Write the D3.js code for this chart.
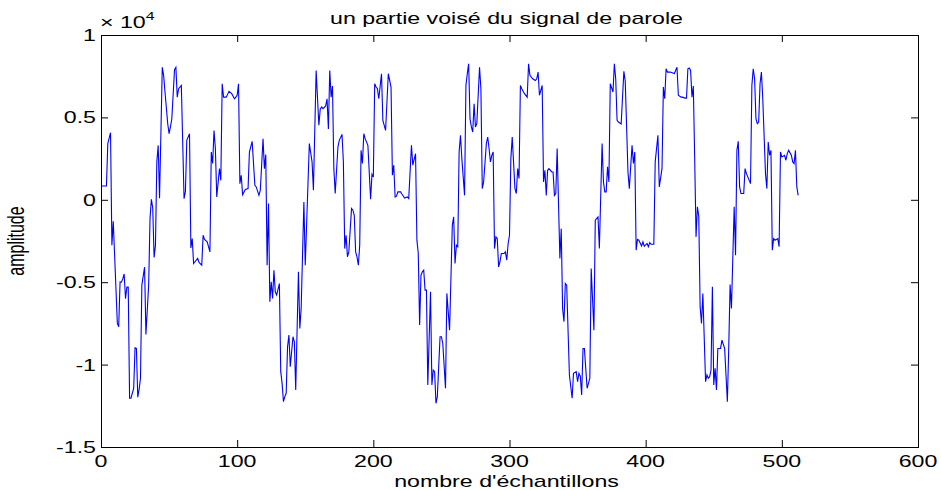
<!DOCTYPE html>
<html>
<head>
<meta charset="utf-8">
<script src="https://cdn.jsdelivr.net/npm/d3@7/dist/d3.min.js"></script>
<style>
  html, body { margin: 0; padding: 0; background: #fff; }
  svg { display: block; }
  text { font-family: "Liberation Sans", Arial, Helvetica, sans-serif; fill: #000; }
</style>
</head>
<body>
<svg id="chart" width="941" height="490"></svg>
<script>
// ---- data ----
const titleText = "un partie voisé du signal de parole";
const xLabelText = "nombre d'échantillons";
const yLabelText = "amplitude";
const xTicks = [0, 100, 200, 300, 400, 500, 600];
const yTicks = [-15000, -10000, -5000, 0, 5000, 10000];
const yTickLabels = ["-1.5", "-1", "-0.5", "0", "0.5", "1"];
const xDomain = [0, 600];
const yDomain = [-15000, 10000];

// sample index of each vertex of the trace
const sampleIdx = [0,4,5,7,8,9,10,12,13,14,15,16,17,18,19,20,21,22,24,25,26,27,28,29,30,32,33,35,36,37,38,39,40,41,42,43,45,46,47,49,50,51,52,54,55,56,57,58,59,61,62,63,65,66,67,68,69,71,72,74,75,76,78,80,81,82,83,84,85,87,88,89,90,92,94,96,98,99,100,101,102,103,104,106,108,109,111,113,114,116,117,119,120,121,122,123,124,125,126,127,128,129,131,132,133,134,135,136,137,138,139,141,142,143,145,146,147,149,150,153,155,156,158,160,161,162,163,165,166,167,168,169,170,171,172,174,175,177,178,179,180,181,182,184,185,186,187,188,189,190,191,192,193,194,196,198,199,200,201,202,203,204,206,207,209,211,213,214,215,216,217,218,220,221,223,225,226,228,229,231,232,233,234,235,236,237,238,239,240,242,243,244,245,246,247,249,250,251,253,254,256,258,259,260,261,262,263,264,265,267,268,269,270,271,272,273,274,275,276,278,279,280,281,283,284,285,286,287,288,289,290,291,292,293,294,296,297,298,299,300,301,302,304,305,306,307,308,309,311,313,314,315,317,319,320,321,322,324,325,326,327,328,329,331,332,333,334,335,337,338,339,340,341,342,344,346,347,349,350,351,352,353,354,355,357,359,360,362,363,365,366,368,369,370,371,372,373,374,376,377,378,379,380,382,384,385,387,388,390,391,392,393,394,395,397,398,399,401,402,403,404,406,407,409,410,412,413,414,415,416,418,420,421,422,423,424,426,427,429,430,431,432,433,434,435,436,437,438,439,440,441,442,444,445,446,447,448,449,450,451,452,453,455,456,458,460,461,462,463,465,466,467,468,469,470,472,473,474,475,477,478,479,480,481,482,483,484,485,486,488,489,490,491,492,493,494,495,497,498,499,500,502,503,504,505,507,508,509,510,511,512];
// amplitude at each vertex
const amplitude = [840,840,3410,4070,-2750,-1300,-3360,-7500,-7700,-4980,-5000,-4800,-4500,-6000,-5300,-5300,-12040,-12040,-11440,-8980,-9020,-11980,-11500,-10830,-5180,-4090,-8170,-5180,-1140,30,-500,-3500,-2750,2300,3300,100,8040,7550,6540,4620,4010,4420,4900,7900,8040,6230,6740,6840,6940,70,500,3610,4010,-2920,-2350,-3870,-3760,-3560,-3800,-3970,-2150,-2400,-2550,-3160,2900,2200,4210,3110,170,1890,1180,7040,6230,6230,6580,6440,6130,6230,6340,7040,980,1490,310,630,680,2900,3550,880,780,270,580,3710,1890,2740,-3970,-230,-6190,-4980,-5990,-4270,-5580,-5780,-5080,-10430,-11140,-12250,-11940,-11740,-8920,-8210,-10130,-8310,-8620,-11540,-4370,-7810,-6590,-130,-3970,3410,2300,580,7850,4520,5500,5630,5530,5700,6130,4300,7850,6230,6900,1890,380,3200,3610,3970,2300,-2960,-2150,-3460,-3160,-530,-630,-940,-3160,-3460,-3970,-2750,3000,2200,4010,3710,3310,30,1550,1390,7040,6840,6740,6130,7650,4820,4210,7650,6840,1490,2100,170,220,480,480,350,110,170,70,3310,2100,2800,-2450,-3260,-7600,-4570,-4370,-4270,-5480,-5480,-11240,-5580,-11240,-10330,-10430,-12350,-11940,-8310,-8310,-8720,-11440,-5680,-7910,-1540,-1040,-3870,-2750,-2850,2900,3910,2500,270,6940,7650,8250,4920,4420,4110,5830,4420,4620,8040,6740,680,1080,3410,3810,3110,2300,2700,2900,-2960,-2250,-2350,-4070,-3760,-3260,-3260,-3160,-3660,-2650,-2150,2500,3810,680,380,1890,1290,6940,6740,6440,6230,8250,7550,7340,7240,7340,7750,6340,6940,1080,1790,270,1790,1890,1690,1690,270,380,3110,-3560,-1750,-6590,-7400,-5080,-5180,-10630,-12040,-10530,-10430,-11040,-10530,-10700,-11840,-9020,-9020,-11440,-10830,-4170,-7910,-1240,-1040,-2960,3410,1080,480,480,2000,1080,7040,6540,8250,7340,4820,4720,4600,7800,7200,1690,680,3310,2200,2900,-3060,-2400,-2450,-2800,-2550,-2820,-2650,-2850,-2600,-2700,-2700,2300,3910,780,1890,6840,6130,7950,7750,7750,7700,7650,7850,8040,6340,6230,6230,6170,6170,7950,8000,7850,6230,6900,2500,-2250,-430,-1000,-6500,-7500,-5680,-11040,-10630,-10830,-10730,-10330,-5280,-11240,-10230,-11540,-9020,-9020,-8520,-9020,-12250,-9020,-5140,-6590,-430,-3360,3000,3550,780,380,380,1890,1590,1390,980,6940,7950,7340,4920,4620,4720,7040,7750,6130,1590,680,3510,2700,3000,-3060,-2350,-2450,-2350,-2850,2900,2600,2700,2400,2800,3000,2700,2300,2200,3000,780,270];

// ---- layout ----
const svg = d3.select("#chart");
const L = 101, R = 918, T = 35, B = 447;
const SX = 1.45; // horizontal stretch of the text in the reference
const FS = 16;

const x = d3.scaleLinear().domain(xDomain).range([L, R]);
const y = d3.scaleLinear().domain(yDomain).range([B, T]);

// trace
const pts = d3.zip(sampleIdx, amplitude);
const line = d3.line().x(d => x(d[0])).y(d => y(d[1]));
svg.append("path")
  .datum(pts)
  .attr("d", line)
  .attr("fill", "none")
  .attr("stroke", "#0000ff")
  .attr("stroke-width", 1.1)
  .attr("stroke-linejoin", "miter");

// axes (box with inward ticks on all sides)
const tickLen = 7;
const axB = d3.axisTop(x).tickValues(xTicks).tickSize(tickLen).tickFormat("");
const axT = d3.axisBottom(x).tickValues(xTicks).tickSize(tickLen).tickFormat("");
const axLft = d3.axisRight(y).tickValues(yTicks).tickSize(tickLen).tickFormat("");
const axRgt = d3.axisLeft(y).tickValues(yTicks).tickSize(tickLen).tickFormat("");
function styleAxis(g) {
  g.select(".domain").remove();
  g.selectAll(".tick line").attr("stroke", "#000").attr("stroke-width", 1);
}
svg.append("g").attr("transform", `translate(0,${B})`).call(axB).call(styleAxis);
svg.append("g").attr("transform", `translate(0,${T})`).call(axT).call(styleAxis);
svg.append("g").attr("transform", `translate(${L},0)`).call(axLft).call(styleAxis);
svg.append("g").attr("transform", `translate(${R},0)`).call(axRgt).call(styleAxis);
svg.append("rect")
  .attr("x", L).attr("y", T).attr("width", R - L).attr("height", B - T)
  .attr("fill", "none").attr("stroke", "#000").attr("stroke-width", 1)
  .attr("shape-rendering", "crispEdges");

function label(txt, px, py, anchor, size, rot) {
  const t = svg.append("text")
    .attr("text-anchor", anchor)
    .attr("font-size", size)
    .attr("transform", `translate(${px},${py}) scale(${SX},1)` + (rot ? ` rotate(${rot})` : ""))
    .text(txt);
  return t;
}

// x tick labels
xTicks.forEach(v => label(String(v), x(v), B + 20, "middle", FS));
// y tick labels
yTicks.forEach((v, i) => label(yTickLabels[i], L - 5, y(v) + 6, "end", FS));

// exponent
const ex = svg.append("text").attr("font-size", FS)
  .attr("transform", `translate(${L - 1},${T - 7}) scale(${SX},1)`);
ex.append("tspan").text("× 10");
ex.append("tspan").attr("font-size", 11).attr("dy", -8).text("4");

// title and axis labels
label(titleText, (L + R) / 2 - 3, 24, "middle", FS);
label(xLabelText, (L + R) / 2 - 3, 487, "middle", FS);
label(yLabelText, 24, (T + B) / 2, "middle", FS, -90);
</script>
</body>
</html>
